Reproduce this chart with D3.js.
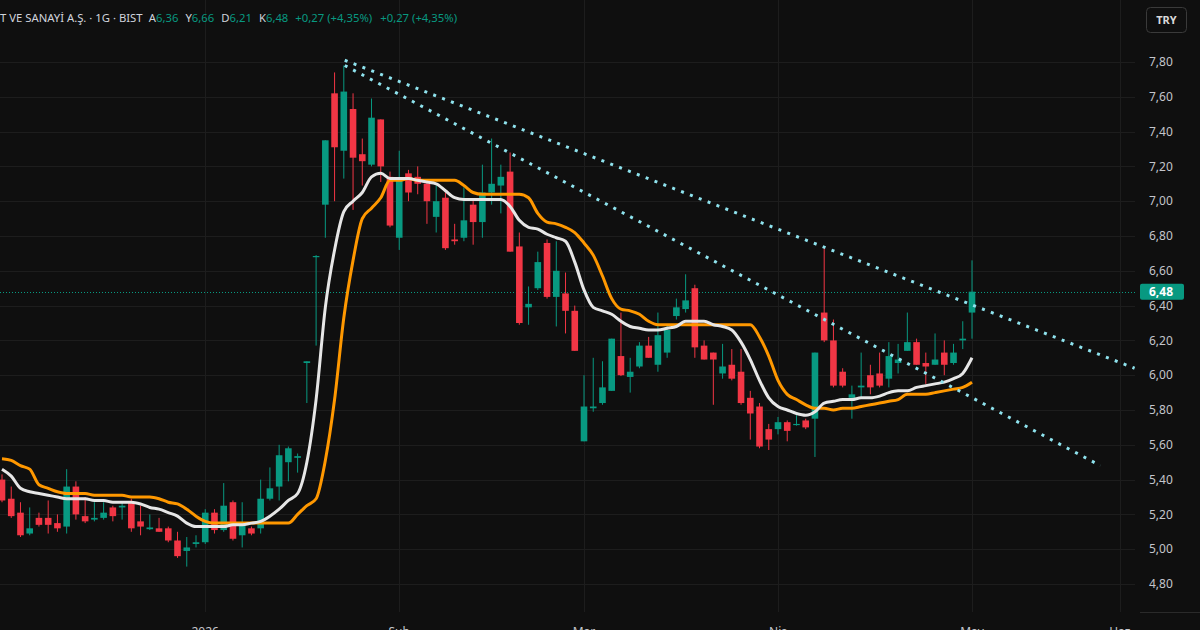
<!DOCTYPE html>
<html><head><meta charset="utf-8">
<script src="https://cdn.jsdelivr.net/npm/d3@7/dist/d3.min.js"></script>
<style>html,body{margin:0;padding:0;background:#0f0f0f;overflow:hidden}svg{display:block}</style>
</head><body>
<svg id="c" width="1200" height="630"></svg>
<script>
// ---- data (daily candles, index based) ----
const open  = [5.40,5.29,5.21,5.09,5.18,5.18,5.15,5.13,5.36,5.19,5.17,5.18,5.24,5.24,5.27,5.16,5.115,5.12,5.12,5.05,4.99,5.03,5.04,5.21,5.11,5.27,5.08,5.12,5.12,5.29,5.36,5.50,5.525,6.07,6.68,6.98,7.62,7.29,7.53,7.27,7.21,7.47,7.14,6.79,7.16,7.14,7.10,6.91,7.02,6.78,6.79,6.98,6.88,7.05,7.09,7.17,6.74,6.39,6.50,6.76,6.45,6.47,6.37,5.62,5.81,5.84,5.91,6.11,5.99,6.05,6.17,6.06,6.13,6.34,6.38,6.50,6.17,6.13,6.01,6.06,6.02,5.87,5.82,5.69,5.69,5.73,5.715,5.74,5.75,6.36,6.20,6.02,5.87,5.93,6.00,6.01,5.98,6.07,6.14,6.19,6.07,6.06,6.13,6.07,6.20,6.36];
const high  = [5.43,5.36,5.27,5.24,5.21,5.28,5.20,5.46,5.39,5.30,5.27,5.27,5.25,5.27,5.29,5.25,5.20,5.18,5.13,5.10,5.07,5.08,5.23,5.23,5.38,5.28,5.27,5.13,5.40,5.47,5.60,5.59,5.55,6.08,6.69,7.35,7.74,7.78,7.62,7.36,7.59,7.47,7.17,7.29,7.18,7.20,7.12,7.09,7.05,6.87,7.08,7.01,7.21,7.36,7.21,7.28,6.82,6.51,6.71,6.78,6.77,6.59,6.40,6.00,6.10,6.08,6.21,6.36,6.10,6.19,6.22,6.36,6.29,6.44,6.58,6.52,6.20,6.13,6.18,6.15,6.15,5.91,5.84,5.72,5.76,5.74,5.77,5.75,6.13,6.74,6.32,6.04,5.94,6.13,6.06,6.13,6.19,6.18,6.36,6.21,6.13,6.24,6.20,6.18,6.31,6.66];
const low   = [5.27,5.18,5.07,5.08,5.13,5.09,5.10,5.09,5.17,5.15,5.16,5.17,5.16,5.17,5.10,5.08,5.11,5.10,5.04,4.95,4.90,5.01,5.03,5.09,5.10,5.05,5.01,5.08,5.09,5.28,5.28,5.39,5.44,5.84,6.17,6.79,7.00,7.13,6.95,7.09,7.20,7.11,6.85,6.72,7.00,7.04,6.87,6.82,6.72,6.75,6.77,6.75,6.79,6.98,6.93,6.71,6.29,6.29,6.49,6.44,6.28,6.24,6.14,5.62,5.79,5.83,5.91,5.995,5.90,6.04,6.10,6.02,6.10,6.32,6.36,6.10,6.09,5.83,5.98,5.97,5.83,5.63,5.58,5.57,5.66,5.62,5.71,5.69,5.53,6.19,5.93,5.93,5.75,5.87,5.89,5.93,5.93,6.01,6.14,6.06,5.95,6.06,6.00,6.06,6.15,6.21];
const close = [5.28,5.19,5.08,5.12,5.14,5.14,5.12,5.36,5.20,5.16,5.18,5.21,5.19,5.25,5.12,5.13,5.125,5.10,5.05,4.96,5.01,5.04,5.21,5.11,5.25,5.06,5.14,5.09,5.29,5.35,5.54,5.58,5.535,6.08,6.685,7.35,7.31,7.63,7.25,7.23,7.48,7.20,6.86,7.12,7.05,7.10,7.00,7.00,6.73,6.77,6.89,6.88,7.05,7.10,7.14,6.71,6.30,6.41,6.65,6.45,6.60,6.37,6.14,5.82,5.82,5.93,6.21,6.00,6.02,6.17,6.10,6.23,6.26,6.39,6.43,6.16,6.09,6.09,6.05,5.98,5.84,5.78,5.59,5.63,5.73,5.68,5.72,5.70,6.13,6.20,5.94,5.94,5.89,5.94,5.93,5.94,6.11,6.09,6.19,6.06,6.05,6.09,6.06,6.13,6.21,6.48];
const whiteMA = [5.46,5.42,5.35,5.33,5.32,5.31,5.30,5.29,5.29,5.29,5.28,5.28,5.27,5.27,5.27,5.26,5.24,5.23,5.21,5.19,5.15,5.13,5.13,5.13,5.13,5.14,5.14,5.15,5.16,5.19,5.23,5.28,5.32,5.50,5.86,6.39,6.72,6.94,7.00,7.05,7.14,7.16,7.13,7.13,7.13,7.12,7.11,7.10,7.06,7.02,7.01,7.01,7.01,7.01,7.01,6.97,6.89,6.85,6.84,6.81,6.79,6.77,6.65,6.49,6.39,6.37,6.35,6.31,6.28,6.27,6.26,6.26,6.27,6.28,6.31,6.31,6.31,6.29,6.28,6.26,6.19,6.09,5.97,5.87,5.82,5.80,5.78,5.77,5.79,5.84,5.85,5.86,5.86,5.87,5.87,5.88,5.90,5.91,5.91,5.93,5.94,5.95,5.96,5.98,6.01,6.10];
const orangeMA = [5.52,5.51,5.48,5.46,5.37,5.35,5.33,5.32,5.32,5.32,5.31,5.31,5.31,5.31,5.30,5.30,5.30,5.29,5.27,5.26,5.23,5.19,5.16,5.15,5.15,5.15,5.15,5.15,5.15,5.15,5.15,5.15,5.20,5.25,5.29,5.51,5.86,6.33,6.66,6.90,6.96,7.02,7.12,7.12,7.13,7.12,7.12,7.12,7.12,7.12,7.09,7.05,7.04,7.04,7.04,7.04,7.04,7.02,6.93,6.88,6.87,6.85,6.82,6.76,6.69,6.57,6.44,6.38,6.37,6.35,6.31,6.29,6.29,6.29,6.29,6.29,6.29,6.29,6.29,6.29,6.29,6.29,6.22,6.11,5.97,5.89,5.86,5.83,5.81,5.81,5.80,5.81,5.81,5.82,5.83,5.84,5.85,5.86,5.89,5.89,5.89,5.90,5.91,5.92,5.93,5.96];
// trend lines: [index, price] endpoints
const upperTrend = [[37.1, 7.81], [122.6, 6.04]];
const lowerTrend = [[37.1, 7.78], [118.9, 5.48]];
const timeTickIndex = [22, 43, 63, 84, 105, 121];
const timeTickLabels = ["2026", "Şub", "Mar", "Nis", "May", "Haz"];
const priceTicks = [4.8, 5.0, 5.2, 5.4, 5.6, 5.8, 6.0, 6.2, 6.4, 6.6, 6.8, 7.0, 7.2, 7.4, 7.6, 7.8];
const lastPrice = 6.48;
const headerName = "T VE SANAYİ A.Ş. · 1G · BIST";
const headerOHLC = [["A", "6,36"], ["Y", "6,66"], ["D", "6,21"], ["K", "6,48"]];
const headerChange = "+0,27 (+4,35%)";

// ---- drawing ----
const W = 1200, H = 630, plotRight = 1135;
const UP = "#089981", DOWN = "#f23645";
const FONT = "'Noto Sans', 'Liberation Sans', sans-serif";
const svg = d3.select("#c");
svg.append("rect").attr("width", W).attr("height", H).attr("fill", "#0f0f0f");

const x = d3.scaleLinear().domain([0, 105]).range([2, 972]);
const y = d3.scaleLinear().domain([4.8, 7.8]).range([584, 62]);
const fmt = v => d3.format(".2f")(v).replace(".", ",");

// grid
const grid = svg.append("g");
grid.selectAll("line.h").data(priceTicks).join("line")
  .attr("x1", 0).attr("x2", plotRight)
  .attr("y1", d => Math.round(y(d)) + 0.5).attr("y2", d => Math.round(y(d)) + 0.5)
  .attr("stroke", "#1d1d1d").attr("stroke-width", 1);
grid.selectAll("line.v").data(timeTickIndex).join("line")
  .attr("x1", d => Math.round(x(d)) + 0.5).attr("x2", d => Math.round(x(d)) + 0.5)
  .attr("y1", 0).attr("y2", 612)
  .attr("stroke", "#1d1d1d").attr("stroke-width", 1);

// last price dotted line
svg.append("line").attr("x1", 0).attr("x2", plotRight)
  .attr("y1", Math.round(y(lastPrice)) + 0.5).attr("y2", Math.round(y(lastPrice)) + 0.5)
  .attr("stroke", UP).attr("stroke-width", 1).attr("stroke-dasharray", "1 2");

// candles
const idx = d3.range(open.length);
const bw = 6.6;
const cg = svg.append("g");
cg.selectAll("line.w").data(idx).join("line")
  .attr("x1", i => x(i)).attr("x2", i => x(i))
  .attr("y1", i => y(high[i])).attr("y2", i => y(low[i]))
  .attr("stroke", i => close[i] >= open[i] ? UP : DOWN).attr("stroke-width", 1);
cg.selectAll("rect").data(idx).join("rect")
  .attr("x", i => x(i) - bw / 2).attr("width", bw)
  .attr("y", i => y(Math.max(open[i], close[i])))
  .attr("height", i => Math.max(1.2, Math.abs(y(open[i]) - y(close[i]))))
  .attr("fill", i => close[i] >= open[i] ? UP : DOWN);

// moving average lines
const line = d3.line().x((d, i) => x(i)).y(d => y(d)).curve(d3.curveMonotoneX);
svg.append("path").attr("d", line(orangeMA)).attr("fill", "none")
  .attr("stroke", "#ff9800").attr("stroke-width", 3).attr("stroke-linejoin", "round");
svg.append("path").attr("d", line(whiteMA)).attr("fill", "none")
  .attr("stroke", "#e6e6e6").attr("stroke-width", 3).attr("stroke-linejoin", "round");

// trend lines
[upperTrend, lowerTrend].forEach(t => {
  svg.append("line")
    .attr("x1", x(t[0][0])).attr("y1", y(t[0][1]))
    .attr("x2", x(t[1][0])).attr("y2", y(t[1][1]))
    .attr("stroke", "#8fe3ee").attr("stroke-width", 3)
    .attr("stroke-dasharray", "3 6.5");
});

// price axis
const pa = svg.append("g");
pa.append("rect").attr("x", plotRight).attr("y", 0).attr("width", W - plotRight).attr("height", H).attr("fill", "#0f0f0f");
pa.selectAll("text").data(priceTicks).join("text")
  .attr("x", 1149).attr("y", d => y(d)).attr("dy", "0.35em")
  .attr("fill", "#c3c5cb").attr("font-size", 12).attr("font-family", FONT)
  .text(fmt);
pa.append("line").attr("x1", plotRight + 5).attr("x2", W).attr("y1", 612.5).attr("y2", 612.5).attr("stroke", "#2a2a2a");

// last price label
pa.append("rect").attr("x", 1140).attr("y", y(lastPrice) - 8).attr("width", 44).attr("height", 16)
  .attr("rx", 2).attr("fill", UP);
pa.append("text").attr("x", 1149).attr("y", y(lastPrice)).attr("dy", "0.35em")
  .attr("fill", "#ffffff").attr("font-size", 12).attr("font-weight", "bold").attr("font-family", FONT)
  .text(fmt(lastPrice));

// TRY button
pa.append("rect").attr("x", 1146.5).attr("y", 7.5).attr("width", 40).attr("height", 25).attr("rx", 4)
  .attr("fill", "#0f0f0f").attr("stroke", "#3a3a3a");
pa.append("text").attr("x", 1166.5).attr("y", 20).attr("dy", "0.35em").attr("text-anchor", "middle")
  .attr("fill", "#d8d8d8").attr("font-size", 11).attr("font-weight", "bold").attr("font-family", FONT).text("TRY");

// time axis labels
svg.append("g").selectAll("text").data(timeTickIndex).join("text")
  .attr("x", d => x(d)).attr("y", 636).attr("text-anchor", "middle")
  .attr("fill", "#c3c5cb").attr("font-size", 12).attr("font-family", FONT)
  .text((d, i) => timeTickLabels[i]);

// header
const hd = svg.append("text").attr("x", 0).attr("y", 22)
  .attr("font-size", 11.3).attr("font-family", FONT).attr("fill", "#d1d4dc");
hd.append("tspan").text(headerName);
headerOHLC.forEach(([k, v], i) => {
  hd.append("tspan").attr("dx", 7).attr("fill", "#d1d4dc").text(k);
  hd.append("tspan").attr("fill", UP).text(v);
});
hd.append("tspan").attr("dx", 7).attr("fill", UP).text(headerChange);
hd.append("tspan").attr("dx", 8).attr("fill", UP).text(headerChange);
</script>
</body></html>
